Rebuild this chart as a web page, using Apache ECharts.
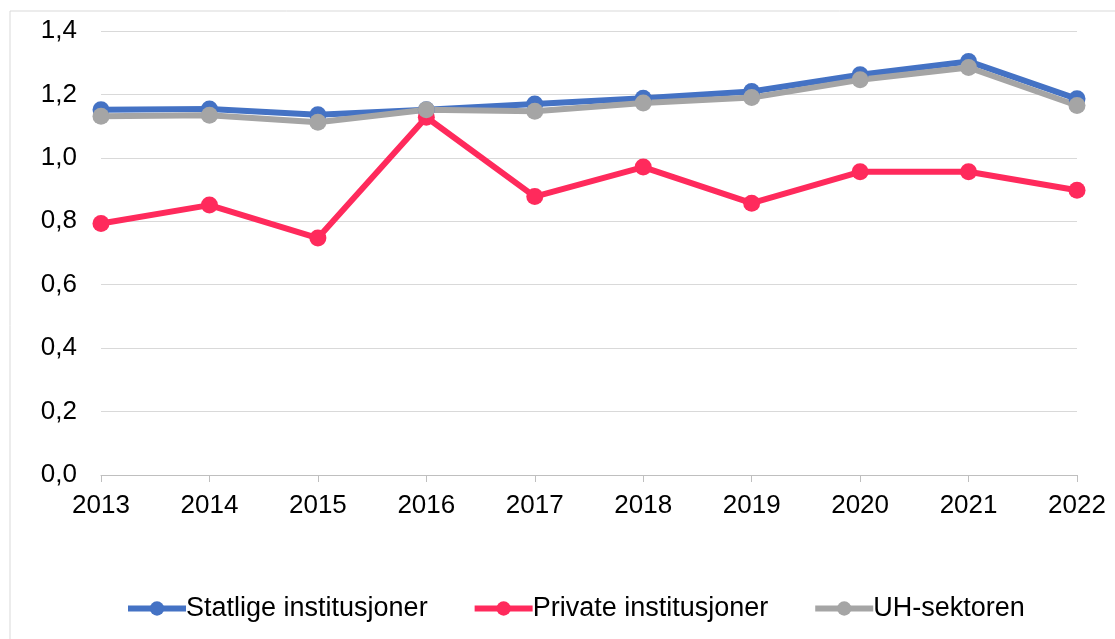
<!DOCTYPE html>
<html>
<head>
<meta charset="utf-8">
<script src="https://cdn.jsdelivr.net/npm/echarts@6/dist/echarts.min.js"></script>
<style>
  html, body { margin: 0; padding: 0; background: #fff; }
  #chart { width: 1115px; height: 639px; }
</style>
</head>
<body>
<div id="chart"></div>
<script>
var years = ['2013', '2014', '2015', '2016', '2017', '2018', '2019', '2020', '2021', '2022'];
var statlige = [1.152, 1.154, 1.136, 1.152, 1.170, 1.188, 1.209, 1.262, 1.304, 1.186];
var privateInst = [0.793, 0.851, 0.747, 1.128, 0.878, 0.971, 0.857, 0.956, 0.956, 0.898];
var uhSektoren = [1.131, 1.134, 1.112, 1.152, 1.147, 1.173, 1.190, 1.246, 1.285, 1.165];
var seriesNames = ['Statlige institusjoner', 'Private institusjoner', 'UH-sektoren'];

var font = 'Arial, "Liberation Sans", sans-serif';
var chart = echarts.init(document.getElementById('chart'));

function lineSeries(name, data, color) {
  return {
    name: name,
    type: 'line',
    data: data,
    symbol: 'circle',
    symbolSize: 17,
    lineStyle: { color: color, width: 6 },
    itemStyle: { color: color },
    animation: false
  };
}

chart.setOption({
  graphic: [{
    type: 'rect',
    shape: { x: 10, y: 11, width: 1120, height: 650 },
    style: { fill: 'none', stroke: '#d9d9d9', lineWidth: 1 },
    silent: true
  }],
  grid: { left: 101, right: 38, top: 31, bottom: 164 },
  xAxis: {
    type: 'category',
    data: years,
    boundaryGap: false,
    axisLine: { lineStyle: { color: '#bfbfbf', width: 1 } },
    axisTick: { show: true, alignWithLabel: true, length: 7, lineStyle: { color: '#bfbfbf' } },
    axisLabel: { color: '#000', fontSize: 26, fontFamily: font, margin: 18 }
  },
  yAxis: {
    type: 'value',
    min: 0,
    max: 1.4,
    interval: 0.2,
    axisLine: { show: false },
    axisTick: { show: false },
    splitLine: { lineStyle: { color: '#d9d9d9', width: 1 } },
    axisLabel: {
      color: '#000', fontSize: 26, fontFamily: font, margin: 24,
      formatter: function (v) { return v.toFixed(1).replace('.', ','); }
    }
  },
  legend: {
    data: seriesNames,
    bottom: 12,
    left: 120,
    itemWidth: 58,
    itemHeight: 18,
    itemGap: 44,
    lineStyle: { width: 6 },
    textStyle: { color: '#000', fontSize: 27, fontFamily: font, padding: [0, 0, 0, -5] }
  },
  series: [
    lineSeries(seriesNames[0], statlige, '#4472C4'),
    lineSeries(seriesNames[1], privateInst, '#FF2A5C'),
    lineSeries(seriesNames[2], uhSektoren, '#A5A5A5')
  ]
});
</script>
</body>
</html>
